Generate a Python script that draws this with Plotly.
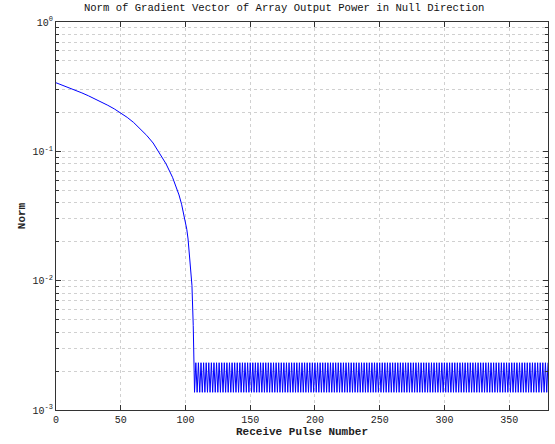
import plotly.graph_objects as go

# Smooth decay segment (pulse number, norm)
decay_x = [0, 5, 10, 15, 20, 25, 30, 35, 40, 45, 50, 55, 60, 65, 70, 75, 80, 85, 90,
           93, 95, 97, 99, 100, 101, 102, 103, 104, 105, 106, 107]
decay_y = [0.339, 0.325, 0.311, 0.297, 0.283, 0.269, 0.255, 0.241, 0.227, 0.213, 0.198,
           0.183, 0.167, 0.150, 0.133, 0.116, 0.097, 0.080, 0.063,
           0.053, 0.046, 0.039, 0.031, 0.0285, 0.025, 0.021, 0.0165, 0.0125, 0.0092, 0.0045, 0.00137]

# Oscillating segment after convergence (pulses 108..380)
osc_x = list(range(108, 381))
osc_y = [
    0.00232, 0.00137, 0.00232, 0.00137, 0.00232, 0.00137, 0.00232, 0.00137, 0.00232, 0.00137,
    0.00232, 0.00137, 0.00232, 0.00137, 0.00232, 0.00137, 0.00232, 0.00137, 0.00232, 0.00137,
    0.00232, 0.00137, 0.00232, 0.00137, 0.00232, 0.00137, 0.00232, 0.00137, 0.00232, 0.00137,
    0.00232, 0.00137, 0.00232, 0.00137, 0.00232, 0.00137, 0.00232, 0.00137, 0.00232, 0.00137,
    0.00232, 0.00137, 0.00232, 0.00137, 0.00232, 0.00137, 0.00232, 0.00137, 0.00232, 0.00137,
    0.00232, 0.00137, 0.00232, 0.00137, 0.00232, 0.00137, 0.00232, 0.00137, 0.00232, 0.00137,
    0.00232, 0.00137, 0.00232, 0.00137, 0.00232, 0.00137, 0.00232, 0.00137, 0.00232, 0.00137,
    0.00232, 0.00137, 0.00232, 0.00137, 0.00232, 0.00137, 0.00232, 0.00137, 0.00232, 0.00137,
    0.00232, 0.00137, 0.00232, 0.00137, 0.00232, 0.00137, 0.00232, 0.00137, 0.00232, 0.00137,
    0.00232, 0.00137, 0.00232, 0.00137, 0.00232, 0.00137, 0.00232, 0.00137, 0.00232, 0.00137,
    0.00232, 0.00137, 0.00232, 0.00137, 0.00232, 0.00137, 0.00232, 0.00137, 0.00232, 0.00137,
    0.00232, 0.00137, 0.00232, 0.00137, 0.00232, 0.00137, 0.00232, 0.00137, 0.00232, 0.00137,
    0.00232, 0.00137, 0.00232, 0.00137, 0.00232, 0.00137, 0.00232, 0.00137, 0.00232, 0.00137,
    0.00232, 0.00137, 0.00232, 0.00137, 0.00232, 0.00137, 0.00232, 0.00137, 0.00232, 0.00137,
    0.00232, 0.00137, 0.00232, 0.00137, 0.00232, 0.00137, 0.00232, 0.00137, 0.00232, 0.00137,
    0.00232, 0.00137, 0.00232, 0.00137, 0.00232, 0.00137, 0.00232, 0.00137, 0.00232, 0.00137,
    0.00232, 0.00137, 0.00232, 0.00137, 0.00232, 0.00137, 0.00232, 0.00137, 0.00232, 0.00137,
    0.00232, 0.00137, 0.00232, 0.00137, 0.00232, 0.00137, 0.00232, 0.00137, 0.00232, 0.00137,
    0.00232, 0.00137, 0.00232, 0.00137, 0.00232, 0.00137, 0.00232, 0.00137, 0.00232, 0.00137,
    0.00232, 0.00137, 0.00232, 0.00137, 0.00232, 0.00137, 0.00232, 0.00137, 0.00232, 0.00137,
    0.00232, 0.00137, 0.00232, 0.00137, 0.00232, 0.00137, 0.00232, 0.00137, 0.00232, 0.00137,
    0.00232, 0.00137, 0.00232, 0.00137, 0.00232, 0.00137, 0.00232, 0.00137, 0.00232, 0.00137,
    0.00232, 0.00137, 0.00232, 0.00137, 0.00232, 0.00137, 0.00232, 0.00137, 0.00232, 0.00137,
    0.00232, 0.00137, 0.00232, 0.00137, 0.00232, 0.00137, 0.00232, 0.00137, 0.00232, 0.00137,
    0.00232, 0.00137, 0.00232, 0.00137, 0.00232, 0.00137, 0.00232, 0.00137, 0.00232, 0.00137,
    0.00232, 0.00137, 0.00232, 0.00137, 0.00232, 0.00137, 0.00232, 0.00137, 0.00232, 0.00137,
    0.00232, 0.00137, 0.00232, 0.00137, 0.00232, 0.00137, 0.00232, 0.00137, 0.00232, 0.00137,
    0.00232, 0.00137, 0.00232,
]

x_ticks = [0, 50, 100, 150, 200, 250, 300, 350]
y_ticks = [1e-3, 1e-2, 1e-1, 1e0]
y_tick_text = ["10<sup>-3</sup>", "10<sup>-2</sup>", "10<sup>-1</sup>", "10<sup>0</sup>"]
y_minor_ticks = [m * d for d in (1e-3, 1e-2, 1e-1) for m in range(2, 10)]

title_text = "Norm of Gradient Vector of Array Output Power in Null Direction"
x_title = "Receive Pulse Number"
y_title = "Norm"

all_x = decay_x + osc_x
all_y = decay_y + osc_y

MONO = "Liberation Mono, Courier New, monospace"

fig = go.Figure()
fig.add_trace(go.Scatter(x=all_x, y=all_y, mode="lines",
                         line=dict(color="#0000ff", width=1), showlegend=False))

grid = "#d0d0d0"
fig.update_layout(
    width=555, height=444,
    margin=dict(l=56, r=7, t=22, b=34, autoexpand=False),
    paper_bgcolor="white", plot_bgcolor="white",
    font=dict(family=MONO, size=10, color="#222"),
    title=dict(text=title_text, x=0.512, xanchor="center", y=0.992, yanchor="top",
               font=dict(family=MONO, size=10.6, color="#111")),
    showlegend=False,
)
fig.update_xaxes(
    range=[0, 380], tickvals=x_ticks, ticks="inside", ticklen=5, tickcolor="#333",
    showline=True, linecolor="#333", linewidth=1, mirror="allticks",
    showgrid=True, gridcolor=grid, griddash="dot", gridwidth=1, zeroline=False,
    automargin=False,
    title=dict(text="<b>" + x_title + "</b>", font=dict(family=MONO, size=11), standoff=2),
    tickfont=dict(family=MONO, size=10),
)
fig.update_yaxes(
    type="log", range=[-3, 0], tickvals=y_ticks, ticktext=y_tick_text,
    ticks="inside", ticklen=5, tickcolor="#333",
    showline=True, linecolor="#333", linewidth=1, mirror="allticks",
    showgrid=True, gridcolor=grid, griddash="dot", gridwidth=1, zeroline=False,
    automargin=False,
    minor=dict(tickvals=y_minor_ticks, ticks="inside", ticklen=3, tickcolor="#333",
               showgrid=True, gridcolor=grid, griddash="dot", gridwidth=1),
    title=dict(text="<b>" + y_title + "</b>", font=dict(family=MONO, size=11), standoff=4),
    tickfont=dict(family=MONO, size=10),
)

fig.write_html("out.html", config={"displayModeBar": False},
               post_script="document.body.style.margin='0';")
